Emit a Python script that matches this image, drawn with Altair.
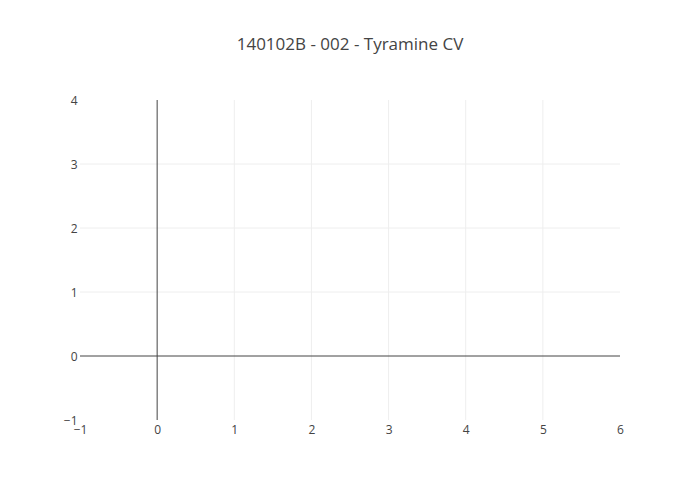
import altair as alt
import pandas as pd

# Axis ranges and ticks (empty plotly-style chart)
x_domain = [-1, 6]
y_domain = [-1, 4]
x_ticks = [-1, 0, 1, 2, 3, 4, 5, 6]
y_ticks = [-1, 0, 1, 2, 3, 4]
x_grid = [1, 2, 3, 4, 5]
y_grid = [1, 2, 3]
zero = [0]

title = "140102B - 002 - Tyramine CV"

xs = alt.Scale(domain=x_domain, nice=False, zero=False)
ys = alt.Scale(domain=y_domain, nice=False, zero=False)

axis_common = dict(domain=False, ticks=False, grid=False, labelColor="#444",
                   labelFont="Open Sans", labelFontSize=12, format="d",
                   labelFlush=False, labelOverlap=False, labelBound=False)

base = alt.Chart(pd.DataFrame({"x": x_ticks[:len(y_ticks)], "y": y_ticks})).mark_point(opacity=0).encode(
    x=alt.X("x:Q", scale=xs, title=None,
            axis=alt.Axis(values=x_ticks, labelPadding=4, **axis_common)),
    y=alt.Y("y:Q", scale=ys, title=None,
            axis=alt.Axis(values=y_ticks, labelPadding=3, **axis_common)),
)

vgrid = alt.Chart(pd.DataFrame({"x": x_grid})).mark_rule(color="#eeeeee", strokeWidth=1).encode(
    x=alt.X("x:Q", scale=xs))
hgrid = alt.Chart(pd.DataFrame({"y": y_grid})).mark_rule(color="#eeeeee", strokeWidth=1).encode(
    y=alt.Y("y:Q", scale=ys))
vzero = alt.Chart(pd.DataFrame({"x": zero})).mark_rule(color="#444444", strokeWidth=1).encode(
    x=alt.X("x:Q", scale=xs))
hzero = alt.Chart(pd.DataFrame({"y": zero})).mark_rule(color="#444444", strokeWidth=1).encode(
    y=alt.Y("y:Q", scale=ys))

chart = alt.layer(vgrid, hgrid, vzero, hzero, base).properties(
    width=540, height=320,
    title=alt.TitleParams(title, font="Open Sans", fontSize=17, fontWeight="normal",
                          color="#444", anchor="middle", offset=40),
    autosize=alt.AutoSizeParams(type="none"),
    padding={"left": 72, "top": 92, "right": 72, "bottom": 64},
).configure_view(stroke=None)

chart.save("out.html", embed_options={"renderer": "svg", "actions": False})
